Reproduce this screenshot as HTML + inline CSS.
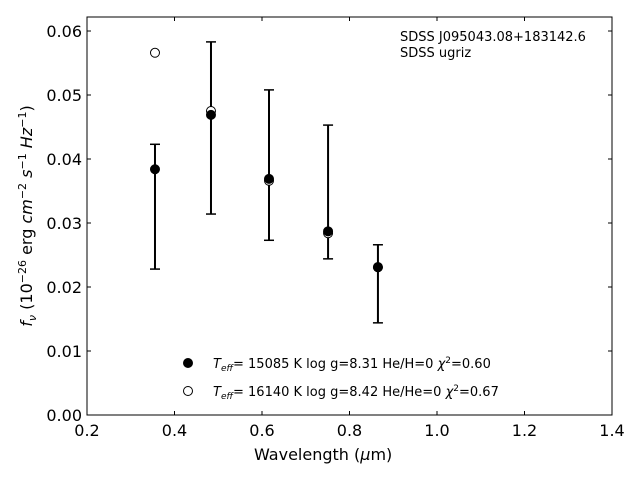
<!DOCTYPE html>
<html><head><meta charset="utf-8"><style>
html,body{margin:0;padding:0;background:#fff;}
svg{display:block;font-family:"DejaVu Sans","Liberation Sans",sans-serif;}
</style></head><body>
<svg id="chart" width="640" height="480" viewBox="0 0 640 480" xmlns="http://www.w3.org/2000/svg">
<rect x="0" y="0" width="640" height="480" fill="#fff"/>
<g id="marks"></g>
<rect x="87" y="17" width="525" height="398" fill="none" stroke="#000" stroke-width="1"/>
<g id="ticks"></g>
<text x="254" y="460" font-size="16">Wavelength (<tspan font-style="italic">μ</tspan>m)</text>
<text transform="translate(32,216) rotate(-90)" text-anchor="middle" font-size="16"><tspan font-style="italic">f</tspan><tspan font-style="italic" font-size="11" dy="4">ν</tspan><tspan dy="-4"> (10</tspan><tspan font-size="11" dy="-6">−26</tspan><tspan dy="6"> erg </tspan><tspan font-style="italic">cm</tspan><tspan font-size="11" dy="-6">−2</tspan><tspan dy="6"> </tspan><tspan font-style="italic">s</tspan><tspan font-size="11" dy="-6">−1</tspan><tspan dy="6"> </tspan><tspan font-style="italic">Hz</tspan><tspan font-size="11" dy="-6">−1</tspan><tspan dy="6">)</tspan></text>
<text x="400" y="41" font-size="13">SDSS J095043.08+183142.6</text>
<text x="400" y="57" font-size="13">SDSS ugriz</text>
<g>
<circle cx="188" cy="363" r="4.5" fill="#000" stroke="#000"/>
<text x="213" y="368" font-size="13"><tspan font-style="italic">T</tspan><tspan font-style="italic" font-size="9" dy="3">eff</tspan><tspan dy="-3">= 15085 K  log g=8.31  He/H=0  </tspan><tspan font-style="italic">χ</tspan><tspan font-size="9" dy="-5">2</tspan><tspan dy="5">=0.60</tspan></text>
<circle cx="188" cy="391" r="4.5" fill="#fff" stroke="#000"/>
<text x="213" y="396" font-size="13"><tspan font-style="italic">T</tspan><tspan font-style="italic" font-size="9" dy="3">eff</tspan><tspan dy="-3">= 16140 K  log g=8.42  He/He=0  </tspan><tspan font-style="italic">χ</tspan><tspan font-size="9" dy="-5">2</tspan><tspan dy="5">=0.67</tspan></text>
</g>
</svg>
<script>
const wavelengths=[0.3554,0.4834,0.616,0.751,0.865];
const fluxModel1=[0.0384,0.0469,0.0369,0.0287,0.0231];
const fluxModel2=[0.0566,0.0475,0.0366,0.0284,0.0231];
const errLow=[0.0228,0.0314,0.0273,0.0244,0.0144];
const errHigh=[0.0423,0.0583,0.0508,0.0453,0.0266];
const xTicks=[0.2,0.4,0.6,0.8,1.0,1.2,1.4];
const xTickLabels=["0.2","0.4","0.6","0.8","1.0","1.2","1.4"];
const yTicks=[0,0.01,0.02,0.03,0.04,0.05,0.06];
const yTickLabels=["0.00","0.01","0.02","0.03","0.04","0.05","0.06"];
const L=87,R=612,T=17,B=415,XMIN=0.2,XMAX=1.4,YMIN=0,YMAX=0.06219;
const xs=v=>L+(v-XMIN)/(XMAX-XMIN)*(R-L);
const ys=v=>B-(v-YMIN)/(YMAX-YMIN)*(B-T);
const NS="http://www.w3.org/2000/svg";
function mk(tag,attrs,parent){const e=document.createElementNS(NS,tag);for(const k in attrs)e.setAttribute(k,attrs[k]);parent.appendChild(e);return e;}
const marks=document.getElementById('marks'),ticks=document.getElementById('ticks');
wavelengths.forEach((w,i)=>{
  const x=xs(w);
  const g=mk('g',{},marks);
  
  
  mk('line',{x1:x,x2:x,y1:ys(errLow[i]),y2:ys(errHigh[i]),stroke:'#000','stroke-width':2},g);
  mk('line',{x1:x-5,x2:x+5,y1:ys(errLow[i]),y2:ys(errLow[i]),stroke:'#000','stroke-width':1.5},g);
  mk('line',{x1:x-5,x2:x+5,y1:ys(errHigh[i]),y2:ys(errHigh[i]),stroke:'#000','stroke-width':1.5},g);
});
wavelengths.forEach((w,i)=>{
  const c=mk('circle',{cx:xs(w),cy:ys(fluxModel2[i]),r:4.5,fill:'#fff',stroke:'#000','stroke-width':1},marks);
  
  
});
wavelengths.forEach((w,i)=>{
  const c=mk('circle',{cx:xs(w),cy:ys(fluxModel1[i]),r:4.5,fill:'#000',stroke:'#000','stroke-width':1},marks);
  
  
});
xTicks.forEach((v,i)=>{
  const x=xs(v);
  mk('line',{x1:x,x2:x,y1:B,y2:B-4,stroke:'#000'},ticks);
  mk('line',{x1:x,x2:x,y1:T,y2:T+4,stroke:'#000'},ticks);
  const t=mk('text',{x:x,y:B+21,'text-anchor':'middle','font-size':16},ticks);
  t.textContent=xTickLabels[i];
  
  
});
yTicks.forEach((v,i)=>{
  const y=ys(v);
  mk('line',{x1:L,x2:L+4,y1:y,y2:y,stroke:'#000'},ticks);
  mk('line',{x1:R,x2:R-4,y1:y,y2:y,stroke:'#000'},ticks);
  const t=mk('text',{x:L-5,y:y+6,'text-anchor':'end','font-size':16},ticks);
  t.textContent=yTickLabels[i];
  
  
});
</script>
</body></html>
